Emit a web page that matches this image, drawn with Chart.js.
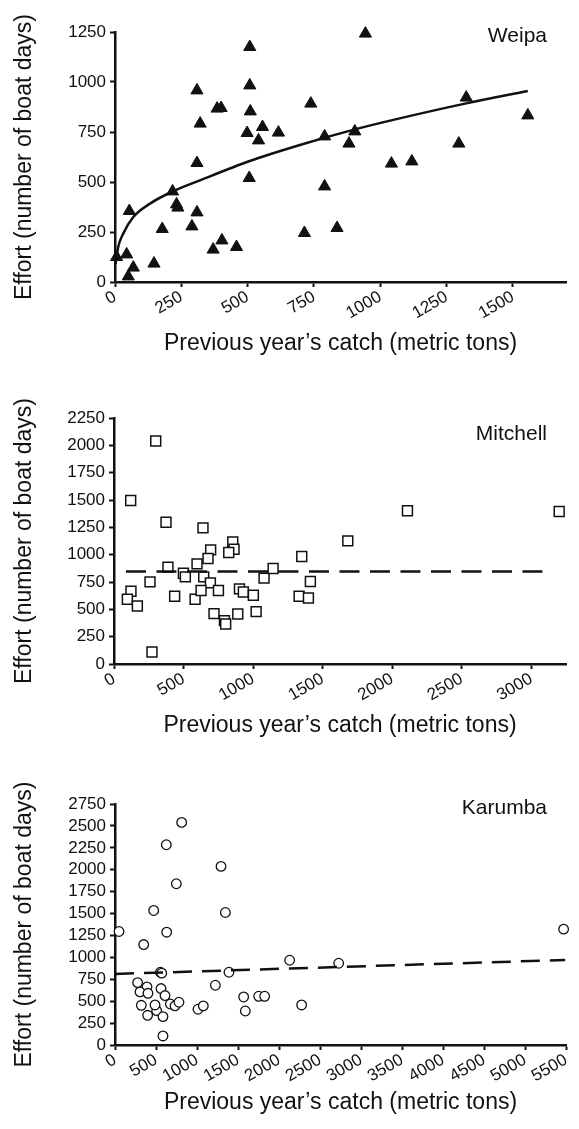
<!DOCTYPE html>
<html><head><meta charset="utf-8">
<script src="https://cdn.jsdelivr.net/npm/chart.js@4.4.0/dist/chart.umd.min.js"></script>
<style>
html,body{margin:0;padding:0;background:#fff;}
body{width:579px;height:1129px;position:relative;overflow:hidden;}
canvas{position:absolute;left:0;display:block;}
</style></head><body>
<canvas id="c1" width="579" height="370" style="top:0;width:579px;height:370px"></canvas>
<canvas id="c2" width="579" height="390" style="top:370px;width:579px;height:390px"></canvas>
<canvas id="c3" width="579" height="369" style="top:760px;width:579px;height:369px"></canvas>
<script>
// ---- Data ----
const weipaCatch  = [6,44,50,69,54,147,178,217,232,237,290,309,309,309,321,370,403,385,400,458,508,508,510,498,506,541,556,616,714,738,790,790,837,882,904,944,1042,1119,1296,1324,1556];
const weipaEffort = [125,138,28,72,355,92,265,453,388,372,278,348,595,958,792,162,208,867,870,175,1175,983,853,745,520,708,775,747,245,892,728,478,270,692,753,1242,592,603,692,922,833];
const weipaFitCatch  = [2,12,31,69,132,213,320,508,697,904,1073,1324,1556];
const weipaFitEffort = [90,175,242,325,392,450,508,605,685,763,818,893,955];

const mitchellCatch  = [120,300,374,640,854,863,825,695,676,597,388,499,513,645,259,693,122,96,168,436,583,626,751,902,930,1002,1079,1144,719,794,803,890,1022,273,1350,1331,1398,1412,1681,2110,3201];
const mitchellEffort = [1496,2040,1297,1245,1117,1050,1020,1044,965,916,885,830,797,797,751,742,665,592,531,620,592,672,672,687,659,629,785,873,461,397,366,458,479,110,983,620,604,754,1126,1401,1395];
const mitchellFitCatch  = [86,3140];
const mitchellFitEffort = [846,846];

const karumbaCatch  = [49,350,472,626,813,748,630,1293,1346,1390,553,570,2130,2728,5471,276,390,305,402,508,321,398,488,561,610,585,585,675,732,780,1012,1077,1224,1569,1589,1752,1825,2276];
const karumbaEffort = [1295,1146,1535,2285,2540,1840,1287,2038,1512,830,830,820,967,933,1322,712,663,606,590,392,453,339,457,644,564,324,103,468,446,488,408,446,682,548,388,556,556,457];
const karumbaFitCatch  = [0,5490];
const karumbaFitEffort = [811,970];

const weipaXTicks = [0,250,500,750,1000,1250,1500];
const weipaYTicks = [0,250,500,750,1000,1250];
const mitchellXTicks = [0,500,1000,1500,2000,2500,3000];
const mitchellYTicks = [0,250,500,750,1000,1250,1500,1750,2000,2250];
const karumbaXTicks = [0,500,1000,1500,2000,2500,3000,3500,4000,4500,5000,5500];
const karumbaYTicks = [0,250,500,750,1000,1250,1500,1750,2000,2250,2500,2750];

const xTitle = 'Previous year\u2019s catch (metric tons)';
const yTitle = 'Effort (number of boat days)';
// ---------------------------------------

const FAM = '"Liberation Sans", Arial, Helvetica, sans-serif';
const INK = '#111';
Chart.defaults.font.family = FAM;

function pts(xs, ys){ return xs.map((x,i)=>({x:x, y:ys[i]})); }

const labelPlugin = {
  id: 'siteLabel',
  afterDatasetsDraw(chart, args, o) {
    const ctx = chart.ctx;
    ctx.save();
    ctx.font = '21px ' + FAM;
    ctx.fillStyle = INK;
    ctx.textAlign = 'right';
    ctx.textBaseline = 'alphabetic';
    ctx.fillText(o.text, o.x, o.y);
    ctx.restore();
  }
};

function makeChart(id, c) {
  const lineDs = {
    data: pts(c.fitX, c.fitY),
    showLine: true,
    borderColor: INK,
    borderWidth: 2.5,
    borderDash: c.dash || [],
    pointRadius: 0,
    fill: false,
    clip: false,
    cubicInterpolationMode: 'monotone'
  };
  const pointDs = {
    data: pts(c.px, c.py),
    showLine: false,
    clip: false,
    pointStyle: c.style,
    pointRadius: c.r,
    pointBackgroundColor: c.fillCol,
    pointBorderColor: INK,
    pointBorderWidth: c.bw
  };
  return new Chart(document.getElementById(id), {
    type: 'scatter',
    data: { datasets: [lineDs, pointDs] },
    plugins: [labelPlugin],
    options: {
      responsive: false,
      animation: false,
      devicePixelRatio: 1,
      layout: { padding: c.pad },
      plugins: {
        legend: { display: false },
        tooltip: { enabled: false },
        siteLabel: { text: c.label, x: 547, y: c.labelY }
      },
      scales: {
        x: {
          type: 'linear', min: 0, max: c.xMax,
          border: { display: true, color: INK, width: 2.5 },
          grid: { display: true, drawOnChartArea: false, drawTicks: true, tickLength: 5, tickColor: INK, tickWidth: 2 },
          afterBuildTicks: s => { s.ticks = c.xTicks.map(v => ({ value: v })); },
          ticks: { autoSkip: false, minRotation: 30, maxRotation: 30, padding: 0, color: INK,
                   font: { size: 17, family: FAM }, callback: v => String(v) },
          title: { display: true, text: xTitle, color: INK, font: { size: 23, family: FAM }, padding: { top: 0, bottom: 0 } },
          afterFit: s => { s.height = c.xH; }
        },
        y: {
          type: 'linear', min: 0, max: c.yMax,
          border: { display: true, color: INK, width: 2.5 },
          grid: { display: true, drawOnChartArea: false, drawTicks: true, tickLength: 5, tickColor: INK, tickWidth: 2 },
          afterBuildTicks: s => { s.ticks = c.yTicks.map(v => ({ value: v })); },
          ticks: { autoSkip: false, padding: 4, color: INK, font: { size: 17, family: FAM }, callback: v => String(v) },
          title: { display: true, text: yTitle, color: INK, font: { size: 23, family: FAM }, padding: { top: 11, bottom: 0 } },
          afterFit: s => { s.width = c.yW; }
        }
      }
    }
  });
}

makeChart('c1', {
  px: weipaCatch, py: weipaEffort, fitX: weipaFitCatch, fitY: weipaFitEffort,
  style: 'triangle', r: 7, bw: 1, fillCol: INK,
  xMax: 1700, yMax: 1250, xTicks: weipaXTicks, yTicks: weipaYTicks,
  pad: { top: 32, left: 0, right: 13, bottom: 13 }, yW: 115, xH: 75,
  label: 'Weipa', labelY: 41.5
});
makeChart('c2', {
  px: mitchellCatch, py: mitchellEffort, fitX: mitchellFitCatch, fitY: mitchellFitEffort,
  style: 'rect', r: 7, bw: 1.5, fillCol: '#fff', dash: [20, 10.5],
  xMax: 3250, yMax: 2250, xTicks: mitchellXTicks, yTicks: mitchellYTicks,
  pad: { top: 48, left: 0, right: 13, bottom: 21 }, yW: 114, xH: 75,
  label: 'Mitchell', labelY: 70
});
makeChart('c3', {
  px: karumbaCatch, py: karumbaEffort, fitX: karumbaFitCatch, fitY: karumbaFitEffort,
  style: 'circle', r: 4.8, bw: 1.3, fillCol: '#fff', dash: [19, 10],
  xMax: 5500, yMax: 2750, xTicks: karumbaXTicks, yTicks: karumbaYTicks,
  pad: { top: 44, left: 0, right: 13, bottom: 13 }, yW: 115, xH: 71,
  label: 'Karumba', labelY: 53.5
});
</script>
</body></html>
